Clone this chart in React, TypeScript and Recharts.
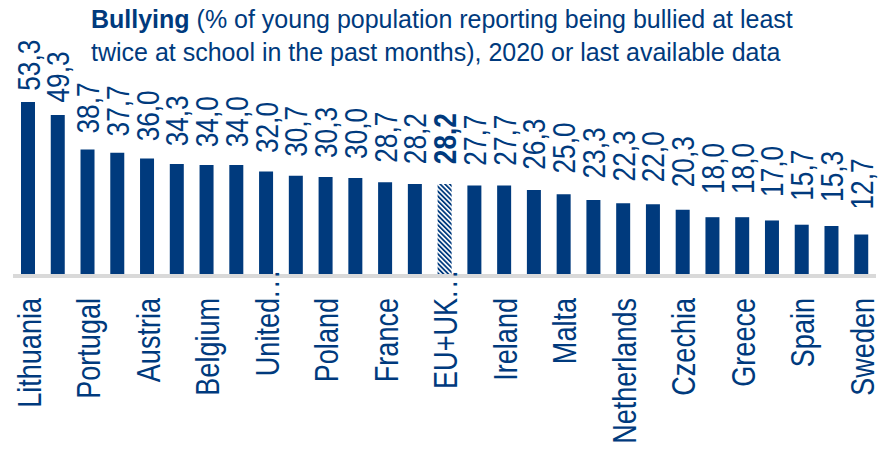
import { Bar, BarChart, Cell, LabelList, XAxis, YAxis } from "recharts";

const countries = [
  "Lithuania", "Latvia", "Portugal", "Estonia", "Austria", "Luxembourg",
  "Belgium", "Romania", "United Kingdom", "Hungary", "Poland", "Bulgaria",
  "France", "Slovakia", "EU+UK average", "Finland", "Ireland", "Germany",
  "Malta", "Slovenia", "Netherlands", "Cyprus", "Czechia", "Croatia",
  "Greece", "Denmark", "Spain", "Italy", "Sweden",
];

const bullying = [
  53.3, 49.3, 38.7, 37.7, 36.0, 34.3, 34.0, 34.0, 32.0, 30.7, 30.3, 30.0,
  28.7, 28.2, 28.2, 27.7, 27.7, 26.3, 25.0, 23.3, 22.3, 22.0, 20.3, 18.0,
  18.0, 17.0, 15.7, 15.3, 12.7,
];

const EU_NAME = "EU+UK average";
const BLUE = "#003a7d";
// no narrow font installed: squeeze Liberation Sans (Arial metrics) instead
const FONT = "'Liberation Sans', Arial, sans-serif";
const NARROW = 0.82;

const data = countries.map((name, i) => ({ name, value: bullying[i] }));

// long names get cut to their first word plus dots, like the original export
const CountryTick = (props: any) => {
  const { x, y, payload } = props;
  const name: string = payload.value;
  const cut = name.length > 12;
  const base = cut ? name.split(" ")[0] : name;
  return (
    <g transform={`translate(${x + 1},${y + 22}) rotate(-90) scale(${NARROW},1)`}>
      <text textAnchor="end" dy="0.36em" fill={BLUE} fontSize={33} fontFamily={FONT}>
        {base}
      </text>
      {cut && (
        <text
          textAnchor="start"
          dy="0.36em"
          fill={BLUE}
          fontSize={33}
          fontFamily={FONT}
          letterSpacing={3}
        >
          ...
        </text>
      )}
    </g>
  );
};

const ValueLabel = (props: any) => {
  const { x, y, width, height, value, index } = props;
  const gap = 11 + (175 - height) * 0.105;
  const isEu = countries[index] === EU_NAME;
  return (
    <g transform={`translate(${x + width / 2},${y - gap}) rotate(-90) scale(${NARROW},1)`}>
      <text
        textAnchor="start"
        dy="0.36em"
        fill={BLUE}
        fontSize={32}
        fontWeight={isEu ? "bold" : "normal"}
        fontFamily={FONT}
      >
        {Number(value).toFixed(1).replace(".", ",")}
      </text>
    </g>
  );
};

export default function App() {
  return (
    <div
      style={{
        position: "absolute",
        left: 0,
        top: 0,
        width: 879,
        height: 450,
        background: "#fff",
        fontFamily: FONT,
      }}
    >
      <div
        style={{
          position: "absolute",
          left: 91,
          top: 3,
          color: BLUE,
          fontSize: 25,
          lineHeight: "33px",
          whiteSpace: "nowrap",
        }}
      >
        <b>Bullying</b> (% of young population reporting being bullied at least
        <br />
        twice at school in the past months), 2020 or last available data
      </div>
      <BarChart
        width={879}
        height={450}
        data={data}
        margin={{ top: 80, right: 3, left: 13, bottom: 0 }}
        barSize={14}
      >
        <defs>
          <pattern
            id="euHatch"
            width="3.4"
            height="3.4"
            patternUnits="userSpaceOnUse"
            patternTransform="rotate(-45)"
          >
            <rect x="0" y="0" width="3.4" height="3.4" fill="#fff" />
            <rect x="0" y="0" width="1.8" height="3.4" fill={BLUE} />
          </pattern>
        </defs>
        <YAxis hide domain={[0, 60]} />
        <Bar dataKey="value" fill={BLUE} isAnimationActive={false}>
          {data.map((d) => (
            <Cell
              key={d.name}
              fill={d.name === EU_NAME ? "url(#euHatch)" : BLUE}
            />
          ))}
          <LabelList dataKey="value" content={<ValueLabel />} />
        </Bar>
        <XAxis
          dataKey="name"
          interval={1}
          height={174}
          tickLine={false}
          tickSize={0}
          tickMargin={0}
          axisLine={{ stroke: "#d9d9d9", strokeWidth: 4 }}
          tick={<CountryTick />}
        />
      </BarChart>
    </div>
  );
}
